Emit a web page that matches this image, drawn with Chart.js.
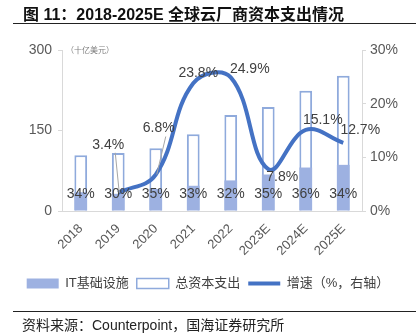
<!DOCTYPE html>
<html>
<head>
<meta charset="utf-8">
<script src="https://cdn.jsdelivr.net/npm/chart.js@4"></script>
<style>
  body { margin: 0; width: 416px; height: 334px; background: #fff; position: relative; overflow: hidden; }
  #title { position: absolute; left: 23px; top: 1px; font: bold 16px "Liberation Sans", "Noto Sans CJK SC", sans-serif; color: #111; white-space: nowrap; }
  .rule { position: absolute; left: 13px; right: 0; height: 0; border-top: 1.5px solid #222; }
  #source { position: absolute; left: 22px; top: 314px; font: 14px "Liberation Sans", "Noto Sans CJK SC", sans-serif; color: #222; white-space: nowrap; }
  #wrap { position: absolute; left: 0; top: 0; width: 416px; height: 334px; }
</style>
</head>
<body>
<div id="wrap"><canvas id="capexChart" width="416" height="334"></canvas></div>
<div id="title">图 11：2018-2025E 全球云厂商资本支出情况</div>
<div class="rule" style="top:23px"></div>
<div class="rule" style="top:311px"></div>
<div id="source">资料来源：Counterpoint，国海证券研究所</div>
<script>
// chart data
const years = ['2018', '2019', '2020', '2021', '2022', '2023E', '2024E', '2025E'];
const totalCapex = [104, 108, 117, 143, 179, 194, 224, 252];
const itInfra = [35, 32, 41, 47, 57, 68, 81, 86];
const itShare = ['34%', '30%', '35%', '33%', '32%', '35%', '36%', '34%'];
const growth = [null, 3.4, 6.8, 23.8, 24.9, 7.8, 15.1, 12.7];

const leftTicks = [0, 150, 300];
const rightTicks = [0, 10, 20, 30];

const itFill = '#9DB1E1';
const lightBlue = '#8FAADC';
const lineBlue = '#4472C4';
const txt = '#595959';
const latin = '"Liberation Sans", Arial, sans-serif';
const cjk = '"Liberation Sans", "Noto Sans CJK SC", sans-serif';

// where the growth labels sit relative to their point (dx, dy, leader line?)
const growthLabelPos = [null, [-10, -48, true], [3, -46, true], [5, -10], [19, -8], [14, 8], [17, -10], [17, -13]];

const labelPlugin = {
    id: 'labels',
    afterDatasetsDraw(chart) {
        const ctx = chart.ctx;
        const y = chart.scales.y;
        const itMeta = chart.getDatasetMeta(0);
        const lineMeta = chart.getDatasetMeta(2);
        ctx.save();
        ctx.font = '14px ' + latin;
        ctx.fillStyle = '#404040';
        ctx.textAlign = 'center';
        ctx.textBaseline = 'middle';

        // share of IT inside the bars
        itMeta.data.forEach((bar, i) => {
            ctx.fillText(itShare[i], bar.x, y.getPixelForValue(0) - 17);
        });

        // growth labels
        lineMeta.data.forEach((pt, i) => {
            const pos = growthLabelPos[i];
            if (growth[i] === null || !pos) return;
            const lx = pt.x + pos[0], ly = pt.y + pos[1];
            if (pos[2]) {
                ctx.strokeStyle = '#A6A6A6';
                ctx.lineWidth = 1;
                ctx.beginPath();
                ctx.moveTo(lx + 7, ly + 8);
                ctx.lineTo(pt.x + 1, pt.y);
                ctx.stroke();
            }
            ctx.fillStyle = '#404040';
            ctx.fillText(growth[i].toFixed(1) + '%', lx, ly);
        });

        // unit
        ctx.font = '8px ' + cjk;
        ctx.fillStyle = '#7F7F7F';
        ctx.textAlign = 'left';
        ctx.fillText('（十亿美元）', chart.chartArea.left + 4, y.getPixelForValue(300) + 1);
        ctx.restore();
    }
};

const ctx = document.getElementById('capexChart').getContext('2d');
const capexChart = new Chart(ctx, {
    type: 'bar',
    data: {
        labels: years,
        datasets: [{
            label: 'IT基础设施',
            data: itInfra,
            backgroundColor: itFill,
            borderWidth: 0,
            grouped: false,
            barPercentage: 0.34,
            categoryPercentage: 1,
            order: 1
        }, {
            label: '总资本支出',
            data: totalCapex,
            backgroundColor: '#ffffff',
            borderColor: lightBlue,
            borderWidth: 2,
            grouped: false,
            barPercentage: 0.34,
            categoryPercentage: 1,
            order: 2
        }, {
            type: 'line',
            label: '增速（%，右轴）',
            data: growth,
            yAxisID: 'y1',
            borderColor: lineBlue,
            backgroundColor: lineBlue,
            borderWidth: 4,
            pointRadius: 0,
            tension: 0.4,
            order: 0
        }]
    },
    options: {
        responsive: false,
        animation: false,
        layout: { padding: { top: 50, left: 0, right: 0, bottom: 34 } },
        plugins: {
            tooltip: { enabled: false },
            legend: {
                position: 'bottom',
                align: 'center',
                labels: {
                    color: '#404040',
                    font: { size: 13, family: cjk },
                    usePointStyle: true,
                    pointStyleWidth: 32,
                    boxHeight: 10,
                    padding: 8,
                    sort: (a, b) => a.datasetIndex - b.datasetIndex,
                    generateLabels(chart) {
                        const items = Chart.defaults.plugins.legend.labels.generateLabels(chart);
                        items.forEach(it => {
                            if (it.datasetIndex === 2) {
                                it.pointStyle = 'line';
                                it.lineWidth = 4;
                                it.strokeStyle = lineBlue;
                            } else {
                                it.pointStyle = 'rect';
                                it.lineWidth = it.datasetIndex === 1 ? 1.5 : 0;
                            }
                        });
                        return items;
                    }
                }
            }
        },
        scales: {
            x: {
                grid: { display: false },
                border: { color: '#D9D9D9' },
                ticks: { color: txt, font: { size: 13, family: latin }, minRotation: 45, maxRotation: 45, padding: 2 },
                afterFit(s) { s.height = 58; }
            },
            y: {
                min: 0, max: 300,
                afterBuildTicks(s) { s.ticks = leftTicks.map(v => ({ value: v })); },
                grid: { drawOnChartArea: false, tickLength: 4, color: '#D9D9D9' },
                border: { color: '#D9D9D9' },
                ticks: { color: txt, font: { size: 14, family: latin }, padding: 6 },
                afterFit(s) { s.width = 62; }
            },
            y1: {
                position: 'right',
                min: 0, max: 30,
                afterBuildTicks(s) { s.ticks = rightTicks.map(v => ({ value: v })); },
                grid: { drawOnChartArea: false, tickLength: 4, color: '#D9D9D9' },
                border: { color: '#D9D9D9' },
                ticks: { color: txt, font: { size: 14, family: latin }, padding: 4, callback: v => v + '%' },
                afterFit(s) { s.width = 54; }
            }
        }
    },
    plugins: [labelPlugin]
});
</script>
</body>
</html>
